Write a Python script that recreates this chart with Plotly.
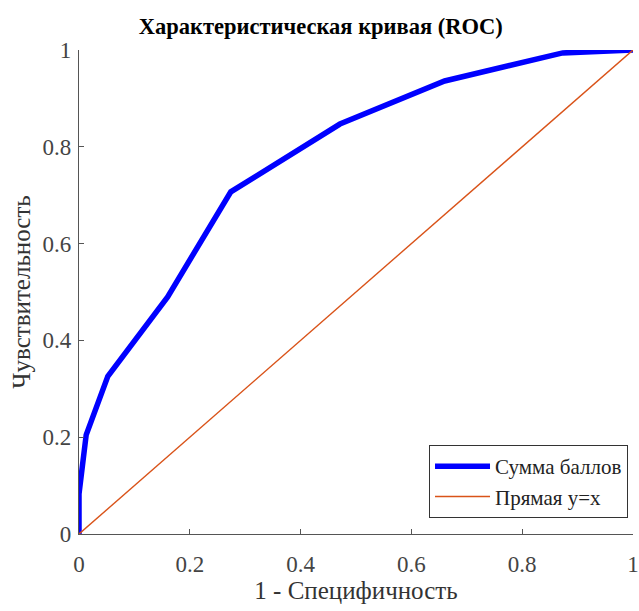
import plotly.graph_objects as go

fpr = [0, 0, 0.013, 0.052, 0.16, 0.274, 0.471, 0.66, 0.873, 1.0]
tpr = [0, 0.083, 0.205, 0.326, 0.49, 0.707, 0.847, 0.936, 0.994, 1.0]
diag_x = [0, 1]
diag_y = [0, 1]
ticks = [0, 0.2, 0.4, 0.6, 0.8, 1]
tick_text = ["0", "0.2", "0.4", "0.6", "0.8", "1"]

serif = "Liberation Serif"

fig = go.Figure()
fig.add_trace(go.Scatter(x=fpr, y=tpr, mode="lines", name="Сумма баллов",
                         line=dict(color="#0000FF", width=5.5)))
fig.add_trace(go.Scatter(x=diag_x, y=diag_y, mode="lines", name="Прямая y=x",
                         line=dict(color="#D95319", width=1.4)))

axis_common = dict(range=[0, 1], tickvals=ticks, ticktext=tick_text,
                   showline=True, linecolor="#555555", linewidth=1.2,
                   ticks="inside", ticklen=5, tickcolor="#555555",
                   showgrid=False, zeroline=False, mirror=False,
                   ticklabeloverflow="allow", automargin=False,
                   tickfont=dict(family=serif, size=23, color="#444444"))

fig.update_layout(
    width=639, height=611,
    margin=dict(l=79, r=6, t=50, b=77),
    paper_bgcolor="white", plot_bgcolor="white",
    font=dict(family=serif),
    title=dict(text="<b>Характеристическая кривая (ROC)</b>",
               font=dict(family=serif, size=22.5, color="black"),
               x=0.502, xanchor="center", y=0.958, yanchor="middle"),
    xaxis=dict(**axis_common, ticklabelstandoff=9,
               title=dict(text="1 - Специфичность", standoff=3,
                          font=dict(family=serif, size=25, color="#333333"))),
    yaxis=dict(**axis_common, ticklabelstandoff=2,
               title=dict(text="Чувствительность", standoff=4,
                          font=dict(family=serif, size=25, color="#333333"))),
    legend=dict(x=0.991, y=0.033, xanchor="right", yanchor="bottom",
                bordercolor="#333333", borderwidth=1, bgcolor="white",
                font=dict(family=serif, size=21, color="#222222"),
                tracegroupgap=0, itemwidth=55),
    showlegend=True,
)

fig.write_html("out.html")
